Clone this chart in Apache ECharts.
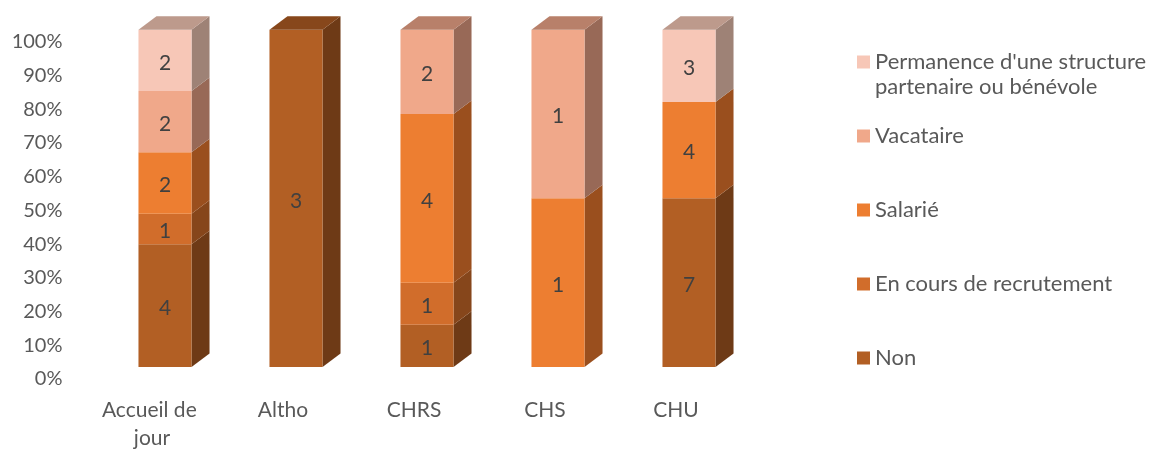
<!DOCTYPE html>
<html>
<head>
<meta charset="utf-8">
<title>Statut des intervenants par type de structure</title>
<script src="https://cdn.jsdelivr.net/npm/echarts@6/dist/echarts.min.js"></script>
<style>
  html, body { margin: 0; padding: 0; background: #ffffff; }
  #chart { width: 1152px; height: 452px; }
</style>
</head>
<body>
<div id="chart"></div>
<script>
// Structure types on the horizontal axis
const categories = ['Accueil de jour', 'Altho', 'CHRS', 'CHS', 'CHU'];

// Series names, bottom of the stack first
const seriesNames = [
  'Non',
  'En cours de recrutement',
  'Salarié',
  'Vacataire',
  "Permanence d'une structure partenaire ou bénévole"
];

// Counts per structure type, one array per series
const nonValues = [4, 3, 1, 0, 7];
const recrutementValues = [1, 0, 1, 0, 0];
const salarieValues = [2, 0, 4, 1, 4];
const vacataireValues = [2, 0, 2, 1, 0];
const permanenceValues = [2, 0, 0, 0, 3];

// Percentage axis tick values
const percentTicks = [0, 10, 20, 30, 40, 50, 60, 70, 80, 90, 100];

const seriesValues = [nonValues, recrutementValues, salarieValues, vacataireValues, permanenceValues];

// Face colours for each series: front, right side, top
const faceColors = [
  { front: '#B25F24', side: '#6E3A16', top: '#87471B' },
  { front: '#D16D2B', side: '#86461B', top: '#A3561F' },
  { front: '#ED7E31', side: '#9A4F1E', top: '#B8642C' },
  { front: '#F0A88A', side: '#986957', top: '#B8806A' },
  { front: '#F7C7B7', side: '#9E8276', top: '#BD9A8C' }
];

const FONT = 'Lato, "Open Sans", sans-serif';
// 3D extrusion: front face offset from the axis floor, and depth of the box
const FRONT_DX = 13, FRONT_DY = -12;
const DEPTH_X = 18, DEPTH_Y = -13.5;
const BAR_RATIO = 0.405;

// Totals per category, used to turn counts into 100% stacks
const totals = categories.map((_, i) => seriesValues.reduce((s, arr) => s + arr[i], 0));
// Index of the highest non-empty segment per category (gets the top face)
const topSeries = categories.map((_, i) => {
  let t = -1;
  seriesValues.forEach((arr, s) => { if (arr[i] > 0) t = s; });
  return t;
});

function buildData(sIdx) {
  const rows = [];
  categories.forEach((_, i) => {
    const v = seriesValues[sIdx][i];
    if (v <= 0) return;
    let below = 0;
    for (let k = 0; k < sIdx; k++) below += seriesValues[k][i];
    const lo = below / totals[i] * 100;
    const hi = (below + v) / totals[i] * 100;
    rows.push([i, lo, hi, v, topSeries[i] === sIdx ? 1 : 0]);
  });
  return rows;
}

function makeRenderItem(sIdx) {
  const c = faceColors[sIdx];
  return function (params, api) {
    const i = api.value(0);
    const lo = api.value(1), hi = api.value(2);
    const raw = api.value(3), isTop = api.value(4);
    const pb = api.coord([i, lo]);
    const pt = api.coord([i, hi]);
    const band = api.size([1, 0])[0];
    const w = band * BAR_RATIO;
    const x0 = pb[0] + FRONT_DX - w / 2;
    const x1 = x0 + w;
    const yb = pb[1] + FRONT_DY;
    const yt = pt[1] + FRONT_DY;
    const children = [
      {
        type: 'polygon',
        shape: { points: [[x1, yb], [x1 + DEPTH_X, yb + DEPTH_Y], [x1 + DEPTH_X, yt + DEPTH_Y], [x1, yt]] },
        style: { fill: c.side }
      },
      {
        type: 'rect',
        shape: { x: x0, y: yt, width: w, height: yb - yt },
        style: { fill: c.front }
      }
    ];
    if (isTop) {
      children.push({
        type: 'polygon',
        shape: { points: [[x0, yt], [x1, yt], [x1 + DEPTH_X, yt + DEPTH_Y], [x0 + DEPTH_X, yt + DEPTH_Y]] },
        style: { fill: c.top }
      });
    }
    children.push({
      type: 'text',
      x: (x0 + x1) / 2,
      y: (yt + yb) / 2 + 2.5,
      style: {
        text: String(raw),
        align: 'center',
        verticalAlign: 'middle',
        fill: '#404040',
        fontSize: 21,
        fontFamily: FONT
      }
    });
    return { type: 'group', children: children };
  };
}

const series = seriesNames.map((name, s) => ({
  name: name,
  type: 'custom',
  renderItem: makeRenderItem(s),
  itemStyle: { color: faceColors[s].front },
  encode: { x: 0, y: [1, 2] },
  data: buildData(s),
  z: 2 + s
}));

const chart = echarts.init(document.getElementById('chart'), null, { renderer: 'canvas' });
chart.setOption({
  animation: false,
  backgroundColor: '#ffffff',
  grid: { left: 86.5, right: 410.5, top: 41.7, bottom: 68.3, containLabel: false },
  xAxis: {
    type: 'category',
    data: categories,
    axisLine: { show: false },
    axisTick: { show: false },
    splitLine: { show: false },
    axisLabel: {
      interval: 0,
      color: '#595959',
      fontSize: 21,
      fontFamily: FONT,
      width: 110,
      overflow: 'break',
      lineHeight: 28,
      margin: 17
    }
  },
  yAxis: {
    type: 'value',
    min: percentTicks[0],
    max: percentTicks[percentTicks.length - 1],
    interval: percentTicks[1] - percentTicks[0],
    axisLine: { show: false },
    axisTick: { show: false },
    splitLine: { show: false },
    axisLabel: {
      formatter: '{value}%',
      color: '#595959',
      fontSize: 20,
      fontFamily: FONT,
      margin: 24
    }
  },
  legend: {
    orient: 'vertical',
    left: 852,
    top: 46,
    icon: 'rect',
    itemWidth: 13,
    itemHeight: 13,
    itemGap: 52,
    data: seriesNames.slice().reverse(),
    formatter: function (name) {
      return name === seriesNames[4] ? "Permanence d'une structure" : name;
    },
    textStyle: {
      color: '#595959',
      fontSize: 22,
      fontFamily: FONT,
      lineHeight: 20,
      padding: [0, 0, 0, 0]
    },
    selectedMode: false
  },
  graphic: [{
    type: 'text',
    left: 875,
    top: 76,
    style: {
      text: 'partenaire ou bénévole',
      fill: '#595959',
      fontSize: 22,
      fontFamily: FONT
    }
  }],
  series: series
});
</script>
</body>
</html>
